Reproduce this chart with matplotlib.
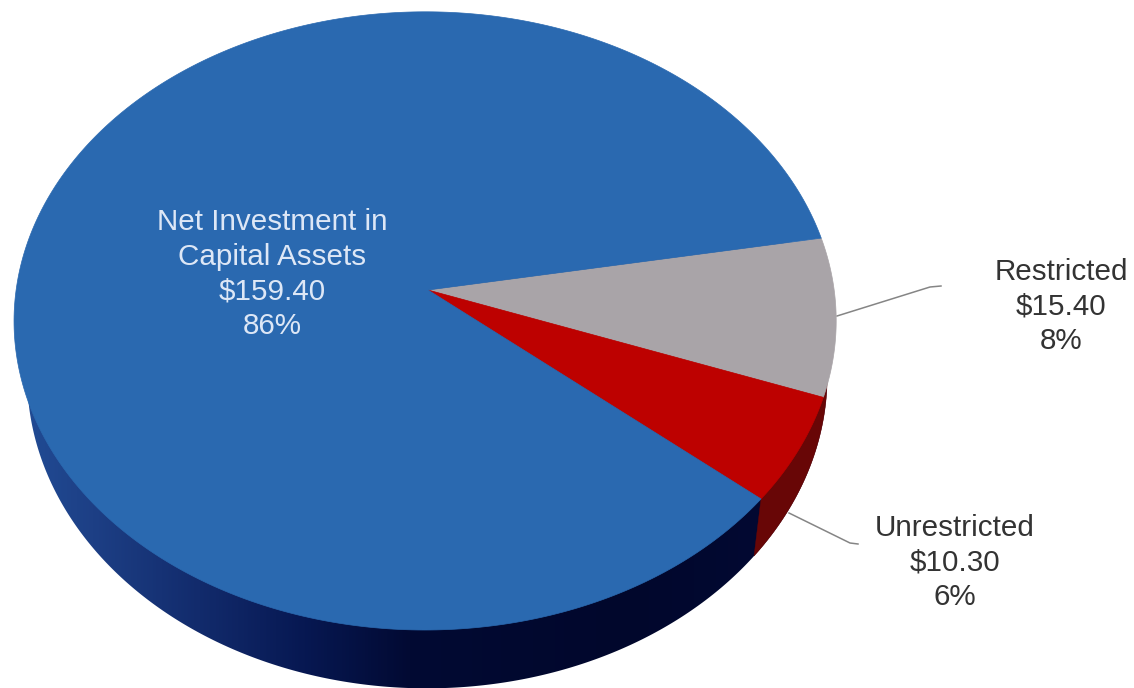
import numpy as np
import matplotlib.pyplot as plt
from matplotlib.colors import LinearSegmentedColormap
from matplotlib.patches import Polygon

plt.rcParams['font.family'] = ['Liberation Sans', 'DejaVu Sans']

categories = ['Restricted', 'Unrestricted', 'Net Investment in\nCapital Assets']
values = [15.40, 10.30, 159.40]
top_colors = ['#a9a4a8', '#bd0100', '#2a69b0']
red_wall = '#680606'

total = sum(values)
start_angle = 10.0
tilt_y, tilt_x = -0.1, -0.007
apex_x, apex_y = 428, 290


# perspective view of a flat disc, screen y pointing down
def project(theta, cx, cy, rx, ry):
    x = np.cos(theta)
    y = np.sin(theta)
    w = 1 - tilt_y * y - tilt_x * x
    return cx + rx * x / w, cy - ry * y / w


def top_disc(theta):
    return project(theta, apex_x, apex_y, 409, 306)


def bottom_disc(theta):
    return project(theta, 430, 345, 398, 309)


fig = plt.figure(figsize=(11.34, 6.88), dpi=100)
ax = fig.add_axes([0, 0, 1, 1])

# wedges run clockwise from the start angle
edges = np.radians(start_angle - np.cumsum([0] + values) / total * 360)

# outer wall of the big slice, dark towards the front
wall_cmap = LinearSegmentedColormap.from_list('wall', [
    (0.00, '#214c95'), (0.09, '#1d3f85'), (0.22, '#122b6c'), (0.35, '#071852'),
    (0.48, '#020a33'), (0.75, '#01072c'), (1.00, '#030a35')])
ts = np.linspace(0, 2 * np.pi, 720)
bx, by = bottom_disc(ts)
wall = Polygon(np.c_[bx, by], closed=True, fc='none', ec='none', transform=ax.transData)
ax.add_patch(wall)
im = ax.imshow(np.linspace(0, 1, 512)[None, :], cmap=wall_cmap, aspect='auto',
               extent=(20, 830, 688, 0), zorder=1)
im.set_clip_path(wall)

# outer wall of the red slice, the top face hides the inner part
ts = np.linspace(edges[2], edges[0], 180)
wx, wy = bottom_disc(ts)
tx, ty = top_disc(edges[2])
ax.fill(np.r_[apex_x, tx, wx], np.r_[apex_y, ty, wy], color=red_wall, lw=0.3, zorder=2)

# top face
for i in range(len(values)):
    ts = np.linspace(edges[i], edges[i + 1], 400)
    xs, ys = top_disc(ts)
    ax.fill(np.r_[apex_x, xs], np.r_[apex_y, ys], color=top_colors[i], lw=0.5, zorder=3)

# leader lines
ax.plot([837, 930, 941], [316, 287, 286], color='#858585', lw=1.1, zorder=0.5)
ax.plot([789, 850, 858], [513, 543, 544], color='#858585', lw=1.1, zorder=0.5)

# labels
positions = [(1061, 306.5), (955, 562.5), (272, 274)]
text_colors = ['#333333', '#333333', '#dde7f6']
for name, v, pos, c in zip(categories, values, positions, text_colors):
    label = f'{name}\n${v:.2f}\n{round(v / total * 100)}%'
    ax.text(pos[0], pos[1], label, ha='center', va='center', fontsize=21.3,
            color=c, linespacing=1.31, zorder=5)

ax.set_xlim(0, 1134)
ax.set_ylim(688, 0)
ax.axis('off')

fig.savefig('out.png', dpi=100, facecolor='white')
